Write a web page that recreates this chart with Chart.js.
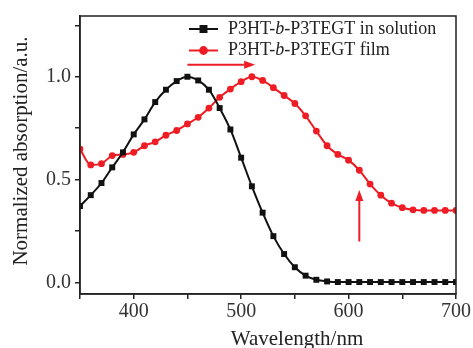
<!DOCTYPE html>
<html>
<head>
<meta charset="utf-8">
<script src="https://cdn.jsdelivr.net/npm/chart.js@4"></script>
<style>
  body { margin: 0; background: #fff; }
  #wrap { width: 473px; height: 348px; position: relative; }
</style>
</head>
<body>
<div id="wrap"><canvas id="absChart"></canvas></div>
<script>
// Wavelength (nm) — one point every 10 nm
const wavelengths = [350, 360, 370, 380, 390, 400, 410, 420, 430, 440, 450, 460, 470, 480, 490, 500,
  510, 520, 530, 540, 550, 560, 570, 580, 590, 600, 610, 620, 630, 640, 650, 660, 670, 680, 690, 700];

// P3HT-b-P3TEGT in solution
const solution = [0.372, 0.425, 0.484, 0.56, 0.633, 0.72, 0.793, 0.877, 0.937, 0.979, 1.0, 0.982,
  0.937, 0.848, 0.744, 0.607, 0.468, 0.34, 0.226, 0.139, 0.075, 0.034, 0.014, 0.006, 0.003, 0.003,
  0.003, 0.003, 0.003, 0.003, 0.003, 0.003, 0.003, 0.003, 0.003, 0.003];

// P3HT-b-P3TEGT film
const film = [0.649, 0.572, 0.578, 0.617, 0.623, 0.633, 0.665, 0.684, 0.716, 0.739, 0.771, 0.803,
  0.848, 0.9, 0.94, 0.976, 1.0, 0.982, 0.947, 0.909, 0.87, 0.81, 0.736, 0.665, 0.623, 0.595,
  0.546, 0.479, 0.425, 0.386, 0.364, 0.354, 0.351, 0.351, 0.351, 0.351];

const xTicks = [350, 400, 450, 500, 550, 600, 650, 700];
const xLabels = [400, 500, 600, 700];
const yTicks = [0, 0.25, 0.5, 0.75, 1.0, 1.25];
const yLabels = [0, 0.5, 1.0];

const seriesNames = ['P3HT-', 'b', '-P3TEGT in solution'];
const filmNames = ['P3HT-', 'b', '-P3TEGT film'];

// arrows in data units: [x0, y0, x1, y1]
const shiftArrow = [450, 1.058, 513, 1.058];
const riseArrow = [610, 0.2, 610, 0.45];

const RED = '#ee1c24';
const BLACK = '#111';
const SERIF = '"Liberation Serif", "Times New Roman", serif';

function arrow(ctx, x0, y0, x1, y1) {
  const ang = Math.atan2(y1 - y0, x1 - x0);
  const head = 11, half = 4;
  const bx = x1 - head * Math.cos(ang), by = y1 - head * Math.sin(ang);
  ctx.beginPath();
  ctx.moveTo(x0, y0);
  ctx.lineTo(bx, by);
  ctx.stroke();
  ctx.beginPath();
  ctx.moveTo(x1, y1);
  ctx.lineTo(bx - half * Math.sin(ang), by + half * Math.cos(ang));
  ctx.lineTo(bx + half * Math.sin(ang), by - half * Math.cos(ang));
  ctx.closePath();
  ctx.fill();
}

const extras = {
  id: 'extras',
  afterDraw(chart) {
    const ctx = chart.ctx;
    const a = chart.chartArea;
    const xs = chart.scales.x, ys = chart.scales.y;
    ctx.save();

    // frame on top and right
    ctx.strokeStyle = '#222';
    ctx.lineWidth = 1.5;
    ctx.strokeRect(a.left, a.top, a.right - a.left, a.bottom - a.top);

    // arrows
    ctx.strokeStyle = RED;
    ctx.fillStyle = RED;
    ctx.lineWidth = 2;
    [shiftArrow, riseArrow].forEach(r => {
      arrow(ctx, xs.getPixelForValue(r[0]), ys.getPixelForValue(r[1]),
        xs.getPixelForValue(r[2]), ys.getPixelForValue(r[3]));
    });

    // legend
    const rows = [
      { parts: seriesNames, color: BLACK, style: 'rect', y: a.top + 13 },
      { parts: filmNames, color: RED, style: 'circle', y: a.top + 34.5 }
    ];
    rows.forEach(r => {
      const x0 = a.left + 109, x1 = a.left + 138;
      ctx.strokeStyle = r.color;
      ctx.fillStyle = r.color;
      ctx.lineWidth = 2;
      ctx.beginPath();
      ctx.moveTo(x0, r.y);
      ctx.lineTo(x1, r.y);
      ctx.stroke();
      Chart.helpers.drawPoint(ctx, { pointStyle: r.style, radius: r.style === 'rect' ? 4.2 : 3.4, borderWidth: 1 }, (x0 + x1) / 2, r.y);
      let tx = a.left + 148;
      ctx.fillStyle = '#222';
      ctx.textBaseline = 'middle';
      r.parts.forEach((p, i) => {
        ctx.font = (i === 1 ? 'italic ' : '') + '18px ' + SERIF;
        ctx.fillText(p, tx, r.y);
        tx += ctx.measureText(p).width;
      });
    });

    // axis titles
    ctx.fillStyle = '#222';
    ctx.font = '21px ' + SERIF;
    ctx.textAlign = 'center';
    ctx.textBaseline = 'middle';
    ctx.fillText('Wavelength/nm', 297, 339);
    ctx.translate(21, 151);
    ctx.rotate(-Math.PI / 2);
    ctx.fillText('Normalized absorption/a.u.', 0, 0);
    ctx.restore();
  }
};

const ctx = document.getElementById('absChart').getContext('2d');
const chart = new Chart(ctx, {
  type: 'line',
  data: {
    datasets: [{
      label: 'P3HT-b-P3TEGT in solution',
      data: wavelengths.map((w, i) => ({ x: w, y: solution[i] })),
      borderColor: BLACK,
      backgroundColor: BLACK,
      borderWidth: 2,
      pointStyle: 'rect',
      pointRadius: 4.2,
      pointBorderWidth: 0,
      cubicInterpolationMode: 'monotone'
    }, {
      label: 'P3HT-b-P3TEGT film',
      data: wavelengths.map((w, i) => ({ x: w, y: film[i] })),
      borderColor: RED,
      backgroundColor: RED,
      borderWidth: 2,
      pointStyle: 'circle',
      pointRadius: 3.4,
      pointBorderWidth: 0,
      cubicInterpolationMode: 'monotone'
    }]
  },
  options: {
    responsive: true,
    maintainAspectRatio: false,
    animation: false,
    layout: { padding: { top: 13, right: 17, left: 0, bottom: 0 } },
    plugins: { legend: { display: false }, tooltip: { enabled: false } },
    scales: {
      x: {
        type: 'linear',
        min: 350,
        max: 700,
        afterBuildTicks: s => { s.ticks = xTicks.map(v => ({ value: v })); },
        afterFit: s => { s.height = 54; },
        grid: { drawOnChartArea: false, drawTicks: true, tickLength: 5, color: '#222', lineWidth: 1.5 },
        border: { color: '#222', width: 1.5 },
        ticks: {
          color: '#333',
          padding: 1,
          maxRotation: 0,
          autoSkip: false,
          font: { family: SERIF, size: 20 },
          callback: v => xLabels.includes(v) ? String(v) : ''
        }
      },
      y: {
        min: -0.055,
        max: 1.295,
        afterBuildTicks: s => { s.ticks = yTicks.map(v => ({ value: v })); },
        afterFit: s => { s.width = 80; },
        grid: { drawOnChartArea: false, drawTicks: true, tickLength: 5, color: '#222', lineWidth: 1.5 },
        border: { color: '#222', width: 1.5 },
        ticks: {
          color: '#333',
          padding: 4,
          autoSkip: false,
          font: { family: SERIF, size: 20 },
          callback: v => yLabels.includes(v) ? v.toFixed(1) : ''
        }
      }
    }
  },
  plugins: [extras]
});
</script>
</body>
</html>
